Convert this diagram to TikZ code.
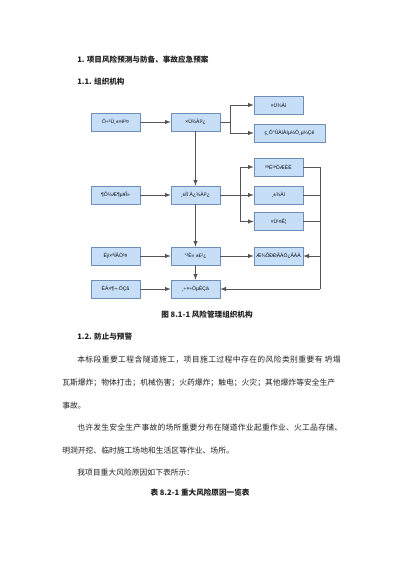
\documentclass[tikz,border=0pt]{standalone}
\usepackage{fontspec}
\newfontfamily\cjk{Noto Sans CJK SC}
\newfontfamily\boxfont{Liberation Sans}
\definecolor{boxfill}{HTML}{C6DEF7}
\definecolor{boxline}{HTML}{6F8DB5}
\definecolor{linegray}{HTML}{555555}
\definecolor{ink}{HTML}{222222}

\begin{document}
\begin{tikzpicture}[x = 0.75pt, y = -0.75pt, >=latex,
unit/.style = {draw = boxline, fill = boxfill, rectangle, minimum width = 36.75pt, minimum height = 13.5pt, inner sep = 1pt, font = \boxfont\fontsize{3.8}{4.5}\selectfont},
wideunit/.style = {unit, minimum width = 53.25pt},
link/.style = {draw = linegray, line width = 0.5pt},
heading/.style = {anchor = west, inner sep = 0pt, text = ink, font = \cjk\bfseries\fontsize{5.7}{7}\selectfont},
body/.style = {anchor = west, inner sep = 0pt, text = ink, font = \cjk\fontsize{5.85}{7}\selectfont}]

\useasboundingbox[fill = white] (0, 0) rectangle (400, 565);

% page text above the chart
\node[heading] (title) at (77, 60) {1. 项目风险预测与防备、事故应急预案};
\node[heading] (section org) at (77, 82) {1.1. 组织机构};

% chart boxes
\node[unit] (leader) at (115.5, 122) {Ö÷¹Ü¸±×é³¤};
\node[unit] (head office) at (195.5, 122) {×Ü¾Àí²¿};
\node[unit] (chief) at (278.5, 105) {×Ü¾Àí};
\node[wideunit] (post staff) at (289.5, 133) {ç¸Ö°ÛÀíÀíµ½Ö¸µ¼Çé};
\node[unit] (inspect) at (278.5, 167) {ºªÉ¹ªÖÆÈË};
\node[unit] (vice) at (278.5, 195) {¸±¾Àí};
\node[unit] (engineer) at (278.5, 221.5) {×Ü¹¤Ê¦};
\node[unit] (second unit) at (115.5, 195) {¶Ô¼Æ¶µ¥Î»};
\node[unit] (project office) at (195.5, 195) {¸±Ïî Ä¿¾Àí²¿};
\node[unit] (lifting) at (115.5, 256) {Éý×ªÍÂÒ³¤};
\node[unit] (safety office) at (195.5, 256) {°²È« ±£²¿};
\node[unit] (supply) at (278.5, 256) {Æ¾ÕÐÐÂÀÖ¿ÂÀÀ};
\node[unit] (third unit) at (115.5, 289) {ÉÁ×¶¬·ÖÇã};
\node[unit] (crew) at (195.5, 289) {¸÷×÷ÒµÈÇà};

\coordinate (split top) at (230, 122);
\coordinate (split mid) at (240, 195);
\coordinate (bus top) at (320, 167);
\coordinate (bus bottom) at (320, 289);

% connectors
\draw[link, ->] (leader) -- (head office);
\draw[link] (head office) -- (split top);
\draw[link, ->] (split top) |- (chief);
\draw[link, ->] (split top) |- (post staff);
\draw[link, ->] (head office) -- (project office);
\draw[link, ->] (second unit) -- (project office);
\draw[link, ->] (project office) -- (vice);
\draw[link, ->] (split mid) |- (inspect);
\draw[link, ->] (split mid) |- (engineer);
\draw[link] (inspect) -- (bus top) -- (bus bottom);
\draw[link] (vice.east) -- (vice.east -| bus top);
\draw[link] (engineer.east) -- (engineer.east -| bus top);
\draw[link, ->] (supply.east -| bus top) -- (supply);
\draw[link, ->] (bus bottom) -- (crew);
\draw[link, ->] (project office) -- (safety office);
\draw[link, ->] (safety office) -- (supply);
\draw[link, ->] (lifting) -- (safety office);
\draw[link, ->] (safety office) -- (crew);
\draw[link, ->] (third unit) -- (crew);

% page text below the chart
\node[heading, anchor = center] (caption) at (207, 315) {图 8.1-1 风险管理组织机构};
\node[heading] (section warn) at (77, 337) {1.2. 防止与预警};
\node[body] (para a) at (77, 360) {\addfontfeatures{LetterSpace=5}本标段重要工程含隧道施工，项目施工过程中存在的风险类别重要有 坍塌};
\node[body] (para b) at (62, 383) {瓦斯爆炸；物体打击；机械伤害；火药爆炸；触电；火灾；其他爆炸等安全生产};
\node[body] (para c) at (62, 406) {事故。};
\node[body] (para d) at (77, 428) {\addfontfeatures{LetterSpace=3}也许发生安全生产事故的场所重要分布在隧道作业起重作业、火工品存储、};
\node[body] (para e) at (62, 451) {明洞开挖、临时施工场地和生活区等作业、场所。};
\node[body] (para f) at (77, 473) {我项目重大风险原因如下表所示：};
\node[heading, anchor = center] (table caption) at (200, 493) {表 8.2-1 重大风险原因一览表};

\end{tikzpicture}
\end{document}
